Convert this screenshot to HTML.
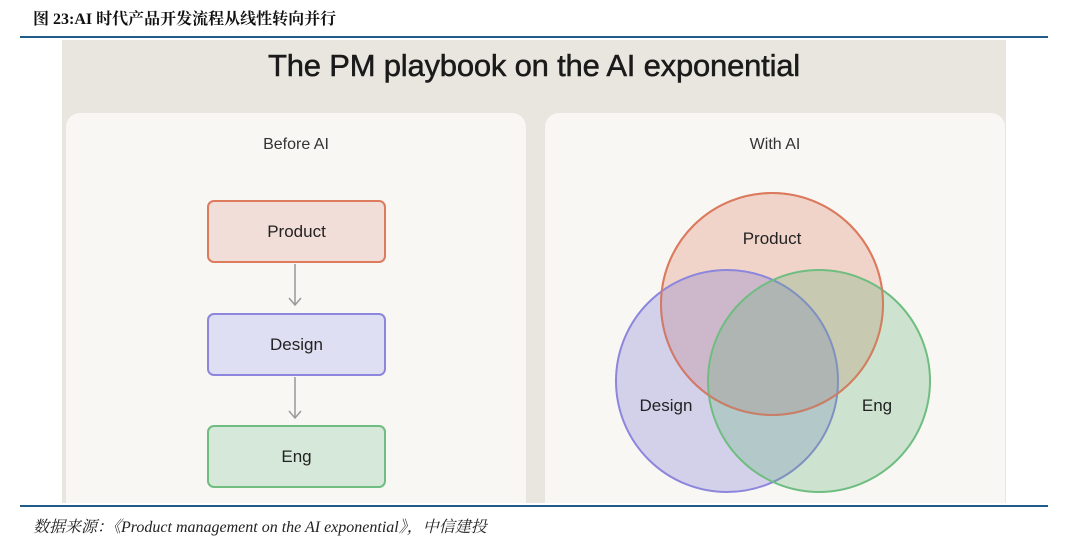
<!DOCTYPE html>
<html><head><meta charset="utf-8"><style>
body{margin:0;width:1080px;height:545px;background:#fff;position:relative;overflow:hidden;font-family:"Liberation Sans","Noto Sans CJK SC",sans-serif}
.cap{position:absolute;left:33px;top:6px;font-size:16px;font-weight:bold;font-family:"Liberation Serif","Noto Serif CJK SC","Noto Sans CJK SC",serif;color:#111}
.line{position:absolute;left:20px;width:1028px;height:2px;background:#1f5c8a}
.bg{position:absolute;left:62px;top:40px;width:944px;height:463px;background:#e8e6df;overflow:hidden}
.title{position:absolute;left:62px;width:944px;top:48px;text-align:center;font-size:31px;color:#1a1a1a;letter-spacing:-0.2px;-webkit-text-stroke:0.5px #1a1a1a}
.panel{position:absolute;top:113px;height:390px;background:#f8f7f4;border-radius:14px 14px 0 0}
.pt{position:absolute;top:136px;font-size:16px;color:#333;text-align:center;width:460px;font-weight:500}
.box{position:absolute;left:207px;width:175px;height:59px;border:2px solid;border-radius:7px;display:flex;align-items:center;justify-content:center;font-size:17px;color:#222;font-weight:500}
.src{position:absolute;left:33px;top:514px;font-size:16px;font-style:italic;font-family:"Liberation Serif","Noto Serif CJK SC",serif;color:#222}
</style></head><body>
<div class="cap">图 23:AI 时代产品开发流程从线性转向并行</div>
<div class="line" style="top:36px"></div>
<div class="bg"></div>
<div class="title">The PM playbook on the AI exponential</div>
<div class="panel" style="left:66px;width:460px"></div>
<div class="panel" style="left:545px;width:460px"></div>
<div class="pt" style="left:66px">Before AI</div>
<div class="pt" style="left:545px">With AI</div>
<div class="box" style="top:200px;background:#f2ded8;border-color:#dc7b5e">Product</div>
<div class="box" style="top:313px;background:#dfdff3;border-color:#8c86dc">Design</div>
<div class="box" style="top:425px;background:#d6e8d9;border-color:#6fbd80">Eng</div>
<svg width="1080" height="545" style="position:absolute;left:0;top:0">
<g stroke="#999" stroke-width="1.5" fill="none">
<line x1="295" y1="264" x2="295" y2="305"/><polyline points="289,298 295,305 301,298"/>
<line x1="295" y1="377" x2="295" y2="418"/><polyline points="289,411 295,418 301,411"/>
</g>
<circle cx="772" cy="304" r="111" fill="rgba(225,140,115,0.32)" stroke="#dc7b5e" stroke-width="2"/>
<circle cx="727" cy="381" r="111" fill="rgba(115,110,210,0.28)" stroke="#8c86dc" stroke-width="2"/>
<circle cx="819" cy="381" r="111" fill="rgba(95,175,115,0.28)" stroke="#6fbd80" stroke-width="2"/>
<circle cx="772" cy="304" r="111" fill="none" stroke="#dc7b5e" stroke-width="2" opacity="0.7"/>
<g font-size="17" fill="#222" font-family="Liberation Sans,sans-serif" text-anchor="middle" font-weight="500">
<text x="772" y="244">Product</text><text x="666" y="411">Design</text><text x="877" y="411">Eng</text></g>
</svg>
<div class="line" style="top:505px"></div>
<div class="src">数据来源：《Product management on the AI exponential》，中信建投</div>
</body></html>
